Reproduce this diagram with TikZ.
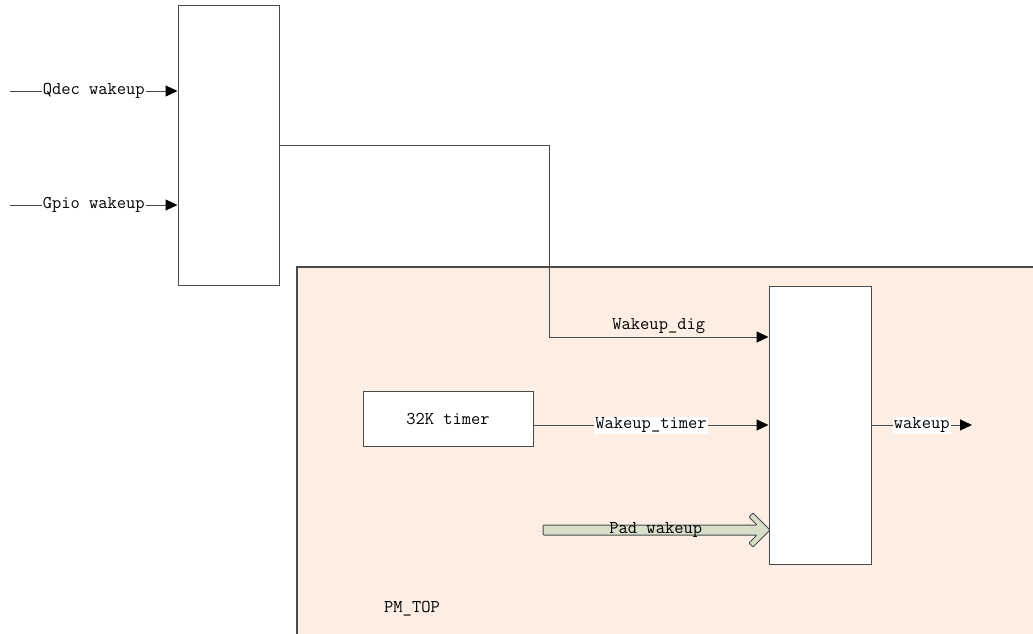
\documentclass[tikz,border=0pt]{standalone}
\usepackage{fontspec}
\usepackage{xcolor}
\usetikzlibrary{arrows.meta}
\definecolor{pmfill}{HTML}{FDEEE3}
\definecolor{padfill}{HTML}{D7DFC9}
\definecolor{edgegray}{HTML}{4A4A4A}
\newcommand{\labelfont}{\ttfamily\fontsize{18}{20}\selectfont}

\begin{document}
\begin{tikzpicture}[x=1pt, y=-1pt,
    box/.style={draw=edgegray, fill=white, line width=1pt, inner sep=0pt, font=\labelfont},
    arrow/.style={draw=edgegray, line width=1pt, ->, >={Triangle[length=12pt, width=11pt, color=black]}},
    lbl/.style={font=\labelfont, fill=white, inner sep=1pt},
    plain/.style={font=\labelfont, inner sep=1pt}
]
    \useasboundingbox (0,0) rectangle (1033,634);

    % PM_TOP region
    \fill[pmfill] (297,267) rectangle (1033,634);
    \draw[edgegray, line width=1.2pt] (297,634) -- (297,267) -- (1033,267);
    \node[plain] (pmlbl) at (412,609) {PM\_TOP};

    % Nodes
    \node[box, minimum width=101, minimum height=279] (wkmux) at (228.5,145.5) {};
    \node[box, minimum width=102, minimum height=278] (wkor) at (820,425) {};
    \node[box, minimum width=170, minimum height=55] (timer) at (448,418.5) {32K timer};

    \coordinate (qdecin) at (10,91);
    \coordinate (gpioin) at (10,205);
    \coordinate (digbend) at (549,337);
    \coordinate (wakeout) at (972,425);
    \coordinate (padin) at (543,530);

    % Connections
    \draw[arrow] (qdecin) -- node[lbl] {Qdec wakeup} (qdecin -| wkmux.west);
    \draw[arrow] (gpioin) -- node[lbl] {Gpio wakeup} (gpioin -| wkmux.west);
    \draw[arrow] (wkmux.east) -| (digbend) -- node[plain, above=2pt] {Wakeup\_dig} (digbend -| wkor.west);
    \draw[arrow] (timer.east |- wkor.west) -- node[lbl] {Wakeup\_timer} (wkor.west);
    \draw[arrow] (wkor.east) -- node[lbl] {wakeup} (wakeout);

    % Pad wakeup fat arrow
    \draw[edgegray, fill=padfill, line width=1pt, rounded corners=1pt]
        (padin) ++(0,-5) -- (757,525) -- (749,517) -- (753,513) -- (770,530)
        -- (753,547) -- (749,543) -- (757,535) -- (543,535) -- cycle;
    \path (padin) -- node[plain] {Pad wakeup} (padin -| wkor.west);
\end{tikzpicture}
\end{document}
